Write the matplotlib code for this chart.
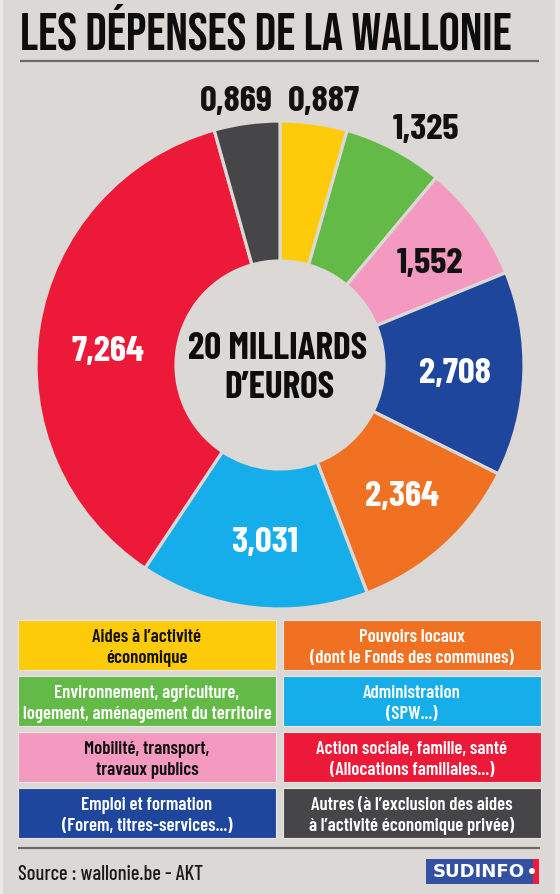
import numpy as np
import matplotlib
matplotlib.use("Agg")
import matplotlib.pyplot as plt
from matplotlib.patches import Rectangle, Circle

################################################################################
# data (pie order, clockwise from the top)

categories = [
    "Aides à l’activité économique",
    "Environnement, agriculture, logement, aménagement du territoire",
    "Mobilité, transport, travaux publics",
    "Emploi et formation",
    "Pouvoirs locaux",
    "Administration",
    "Action sociale, famille, santé",
    "Autres",
]
values = [0.887, 1.325, 1.552, 2.708, 2.364, 3.031, 7.264, 0.869]
value_labels = ["0,887", "1,325", "1,552", "2,708", "2,364", "3,031", "7,264", "0,869"]

legend_text = [
    ("Aides à l’activité", "économique"),
    ("Environnement, agriculture,", "logement, aménagement du territoire"),
    ("Mobilité, transport,", "travaux publics"),
    ("Emploi et formation", "(Forem, titres-services...)"),
    ("Pouvoirs locaux", "(dont le Fonds des communes)"),
    ("Administration", "(SPW...)"),
    ("Action sociale, famille, santé", "(Allocations familiales...)"),
    ("Autres (à l’exclusion des aides", "à l’activité économique privée)"),
]

title = "LES DÉPENSES DE LA WALLONIE"
center_text = ["20 MILLIARDS", "D’EUROS"]
source = "Source : wallonie.be - AKT"

################################################################################
# styles / layout (pixel coordinates of the 560x895 picture)

bg = "#dcd8d5"
colors = ["#fecb0a", "#63ba46", "#f49ac1", "#1f469d",
          "#f07122", "#15aeea", "#ed1939", "#464548"]
label_colors = ["#111111", "#111111", "#111111", "white",
                "white", "white", "white", "#111111"]
legend_text_colors = ["#111111", "white", "#111111", "white",
                      "white", "white", "white", "white"]

# label anchor (x centre, baseline)
label_pos = [(324, 111), (426, 139), (430, 273), (455, 383),
             (402, 506), (265, 552), (108, 361), (236, 111)]

pie_center = (280, 366)
r_out = 244
r_in = 104

# legend grid: (category index, column, row)
legend_cells = [(0, 0, 0), (1, 0, 1), (2, 0, 2), (3, 0, 3),
                (4, 1, 0), (5, 1, 1), (6, 1, 2), (7, 1, 3)]
col_x = [18, 283]
box_w = 258
row_y = [621, 677, 733, 789]
box_h = 50

cond = ["Barlow Condensed", "Liberation Sans Narrow", "DejaVu Sans"]
title_font = ["Bebas Neue", "Barlow Condensed", "DejaVu Sans"]
plt.rcParams["font.family"] = cond

################################################################################

def fit(ref, texts, width):
    """scale the font size of texts so that ref ends up `width` px wide"""
    k = width / ref.get_window_extent(renderer).width
    for t in texts:
        t.set_fontsize(t.get_fontsize() * k)

################################################################################

fig = plt.figure(figsize=(5.6, 8.95), dpi=100, facecolor=bg)
renderer = fig.canvas.get_renderer()
ax = fig.add_axes([0, 0, 1, 1])
ax.set_facecolor(bg)

wedges, _ = ax.pie(values, colors=colors, center=pie_center, radius=r_out,
                   startangle=270, counterclock=True,
                   wedgeprops=dict(width=r_out - r_in, edgecolor=bg, linewidth=2.3))

ax.set_xlim(0, 560)
ax.set_ylim(895, 0)
ax.set_aspect("auto")
ax.axis("off")

# thin light borders left / right
ax.add_patch(Rectangle((0, 0), 3, 895, color="#ebe9e7", lw=0))
ax.add_patch(Rectangle((555, 0), 5, 895, color="#ebe9e7", lw=0))

# title + rule
t = ax.text(20, 49, title, fontsize=32, color="#0d0d0d", family=title_font,
            ha="left", va="baseline")
fit(t, [t], 495)
ax.plot([20, 539], [62, 62], color="#6a6a6a", lw=1.6, solid_capstyle="butt")

# value labels
labs = []
for lab, (x, y), c in zip(value_labels, label_pos, label_colors):
    labs.append(ax.text(x, y, lab, fontsize=26.7, fontweight="bold", color=c,
                        ha="center", va="baseline"))
fit(labs[6], labs, 73)

# centre text
c1 = ax.text(278, 359, center_text[0], fontsize=26.7, fontweight="bold",
             color="#0d0d0d", ha="center", va="baseline")
c2 = ax.text(279, 398, center_text[1], fontsize=26.7, fontweight="bold",
             color="#0d0d0d", ha="center", va="baseline")
fit(c1, [c1, c2], 179)

# legend boxes
legs = []
for idx, col, row in legend_cells:
    x0 = col_x[col]
    y0 = row_y[row]
    ax.add_patch(Rectangle((x0, y0), box_w, box_h, facecolor=colors[idx],
                           edgecolor="#e9e6e3", lw=0.8))
    l1, l2 = legend_text[idx]
    legs.append(ax.text(x0 + box_w / 2, y0 + 21, l1, fontsize=14.4, fontweight=600,
                        color=legend_text_colors[idx], ha="center", va="baseline"))
    legs.append(ax.text(x0 + box_w / 2, y0 + 42, l2, fontsize=14.4, fontweight=600,
                        color=legend_text_colors[idx], ha="center", va="baseline"))
fit(legs[3], legs, 249)

# bottom rule + source
ax.plot([18, 540], [849, 849], color="#6a6a6a", lw=1.6, solid_capstyle="butt")
s = ax.text(18, 880, source, fontsize=15, fontweight=500, color="#1a1a1a",
            ha="left", va="baseline")
fit(s, [s], 185)

# SUDINFO logo
ax.add_patch(Rectangle((426, 860), 108, 25, color="#3350a3", lw=0))
ax.add_patch(Rectangle((533, 860), 6, 25, color="#ee1c3a", lw=0))
lg = ax.text(479, 877, "SUDINFO", fontsize=11.2, fontweight="bold", color="white",
             family="DejaVu Sans", ha="center", va="baseline")
fit(lg, [lg], 92)
ax.add_patch(Circle((532, 872), 3, color="white", lw=0))

fig.savefig("out.png", dpi=100, facecolor=bg)
